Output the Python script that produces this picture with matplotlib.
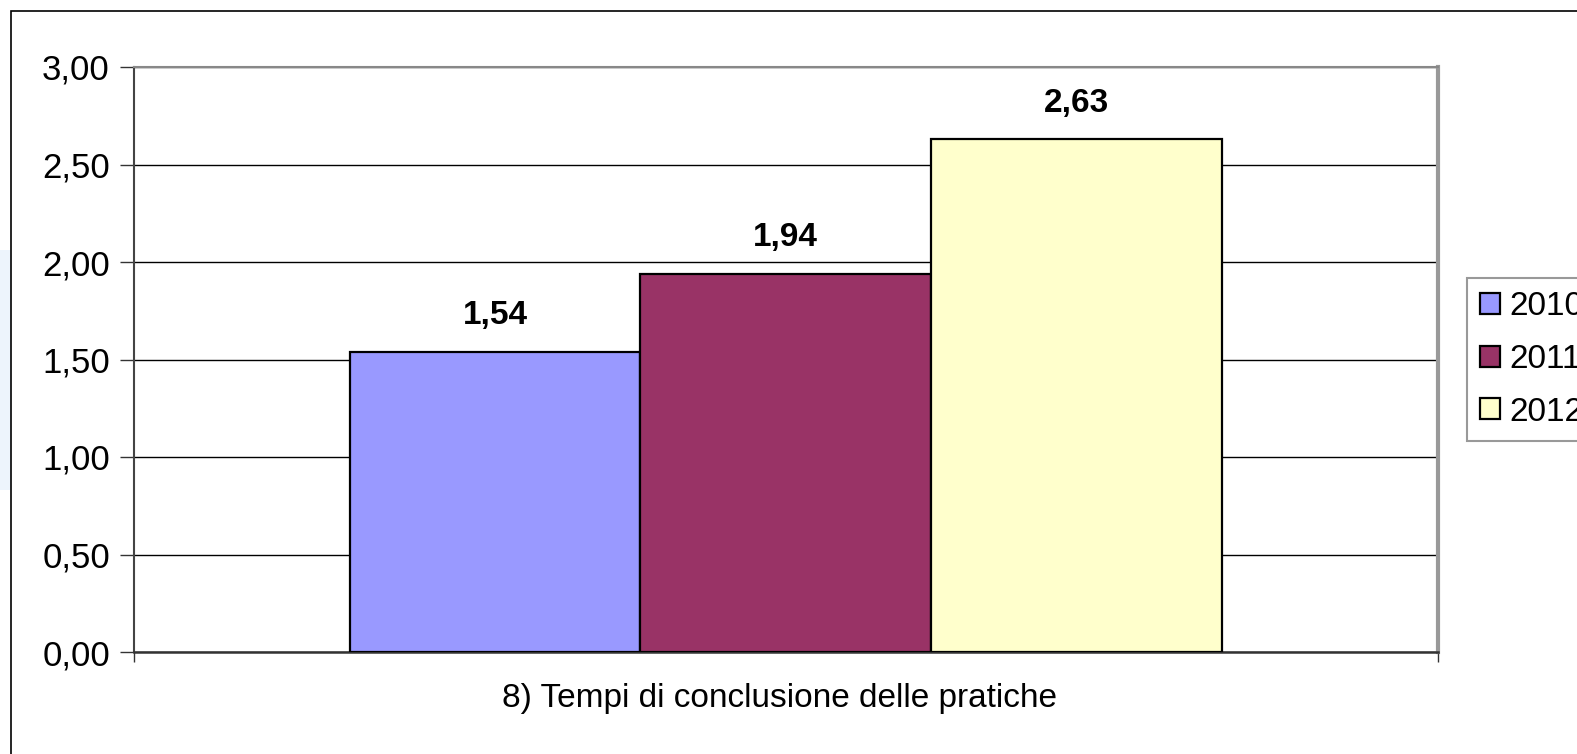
import matplotlib
matplotlib.use("Agg")
import matplotlib.pyplot as plt
from matplotlib.patches import Rectangle

plt.rcParams['font.family'] = ['Liberation Sans', 'DejaVu Sans']

# Data
years = ["2010", "2011", "2012"]
values = [1.54, 1.94, 2.63]
bar_colors = ["#9999FF", "#993366", "#FFFFCC"]
yticks = [0.0, 0.5, 1.0, 1.5, 2.0, 2.5, 3.0]
category = "8) Tempi di conclusione delle pratiche"

W, H = 1577, 754
fig = plt.figure(figsize=(W / 100, H / 100), dpi=100)
fig.patch.set_facecolor("white")

# faint background shape on the left edge and the outer chart border
fig.add_artist(Rectangle((0, 1 - 490 / H), 11 / W, 240 / H, transform=fig.transFigure,
                         facecolor="#edf4fc", edgecolor="none", zorder=0))
fig.add_artist(Rectangle((11 / W, -0.1), 2, 1 - 11 / H + 0.1, transform=fig.transFigure,
                         fill=False, edgecolor="black", linewidth=1.2, zorder=1))

left, right, top, bottom = 133.5, 1438, 67, 652
ax = fig.add_axes([left / W, 1 - bottom / H, (right - left) / W, (bottom - top) / H])
ax.set_facecolor("white")

width = 0.2227
for i, (yr, v, c) in enumerate(zip(years, values, bar_colors)):
    x = 0.5 + (i - 1) * width
    ax.bar(x, v, width=width, color=c, edgecolor="black", linewidth=1.6, label=yr, zorder=3)
    ax.annotate(f"{v:.2f}".replace(".", ","), (x, v), xytext=(0, 26),
                textcoords="offset points", ha="center", va="center",
                fontsize=24, fontweight="bold", zorder=4)

ax.set_xlim(0, 1)
ax.set_ylim(0, 3)
ax.set_yticks(yticks)
ax.set_yticklabels([f"{t:.2f}".replace(".", ",") for t in yticks], fontsize=25)
ax.set_xticks([0, 1])
ax.set_xticklabels([])
ax.tick_params(axis="y", direction="out", length=10, width=1, color="#333333", pad=7)
ax.tick_params(axis="x", direction="out", length=7.5, width=1, color="#333333")
ax.yaxis.grid(True, color="black", linewidth=1)
ax.set_axisbelow(True)

ax.spines["left"].set_color("#444444")
ax.spines["left"].set_linewidth(1.5)
ax.spines["bottom"].set_color("#333333")
ax.spines["bottom"].set_linewidth(1.8)
ax.spines["top"].set_color("#888888")
ax.spines["top"].set_linewidth(1.5)
ax.spines["right"].set_color("#999999")
ax.spines["right"].set_linewidth(3)

fig.text(780 / W, 1 - 698 / H, category, ha="center", va="center", fontsize=24)

leg = fig.legend(loc="upper left", bbox_to_anchor=(1467 / W, 1 - 278 / H),
                 fontsize=24, frameon=True, fancybox=False, shadow=False,
                 handlelength=0.6, handleheight=0.6, handletextpad=0.27,
                 labelspacing=0.65, borderpad=0.4, borderaxespad=0)
leg.get_frame().set_edgecolor("#808080")
leg.get_frame().set_linewidth(1.5)

fig.savefig("out.png", dpi=100)
